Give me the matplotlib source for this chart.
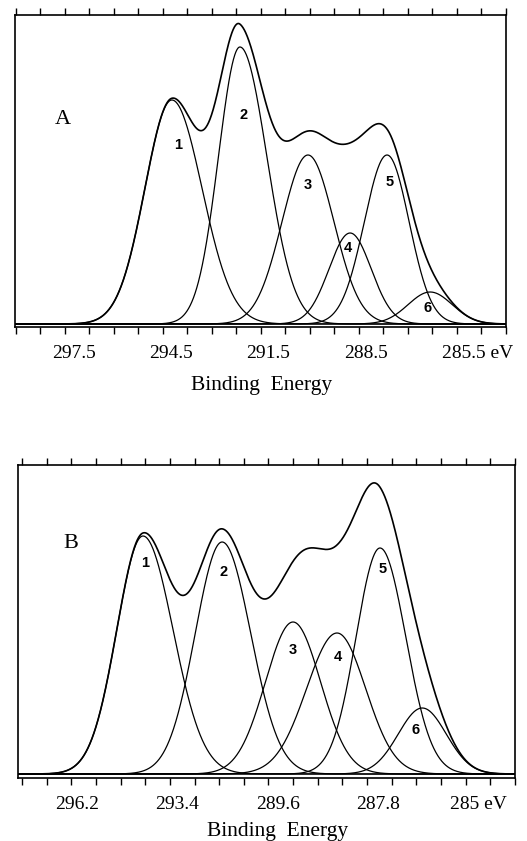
import numpy as np
import matplotlib
matplotlib.use("Agg")
import matplotlib.pyplot as plt
from matplotlib.transforms import ScaledTranslation

# ---------------- data ----------------
# Panel A: component peaks (binding energy eV, height a.u., left/right widths eV)
a_center = [294.48, 292.38, 290.28, 288.98, 287.84, 286.51]
a_height = [224, 277, 169, 91, 169, 32]
a_sig_l = [0.83, 0.66, 0.80, 0.65, 0.70, 0.68]
a_sig_r = [0.93, 0.83, 0.80, 0.65, 0.68, 0.68]
a_base = 3

# Panel B
b_center = [294.36, 292.15, 290.17, 288.94, 287.74, 286.56]
b_height = [238, 232, 152, 141, 226, 66]
b_sig_l = [0.73, 0.75, 0.77, 0.85, 0.67, 0.67]
b_sig_r = [0.84, 0.80, 0.77, 0.80, 0.72, 0.67]
b_base = 4

peak_names = ["1", "2", "3", "4", "5", "6"]

a_tick_vals = [297.5, 294.5, 291.5, 288.5, 285.5]
a_tick_labels = ["297.5", "294.5", "291.5", "288.5", "285.5 eV"]
b_tick_vals = [296.2, 293.4, 290.6, 287.8, 285.0]
b_tick_labels = ["296.2", "293.4", "289.6", "287.8", "285 eV"]

# ---------------- layout ----------------
W, H = 527, 841
fig = plt.figure(figsize=(W / 100, H / 100), dpi=100)


def px_axes(l, r, t, b):
    return fig.add_axes([l / W, 1 - b / H, (r - l) / W, (b - t) / H])


serif = "Liberation Serif"


def comp(E, c, h, sl, sr):
    s = np.where(E >= c, sl, sr)
    return h * np.exp(-0.5 * ((E - c) / s) ** 2)


def panel(ax, xlim, ylim, centers, heights, sl, sr, base, minor_start, minor_step,
          tick_vals, tick_labels, lab_pos, letter, letter_pos, last_shift):
    E = np.linspace(xlim[0], xlim[1], 1500)
    total = np.zeros_like(E)
    for c, h, l, r in zip(centers, heights, sl, sr):
        y = comp(E, c, h, l, r)
        total += y
        ax.plot(E, base + y, color="black", lw=0.9)
    ax.plot(E, base + total, color="black", lw=1.2)
    ax.set_xlim(*xlim)
    ax.set_ylim(*ylim)
    ax.set_yticks([])
    minor = [minor_start - k * minor_step for k in range(21)]
    ax.set_xticks(minor, minor=True)
    ax.set_xticks(tick_vals)
    ax.set_xticklabels(tick_labels, fontfamily=serif, fontsize=14)
    ax.tick_params(axis="x", which="major", length=0, pad=13)
    ax.tick_params(axis="x", which="minor", length=5, width=1.0, direction="out",
                   top=True, bottom=True)
    for sp in ax.spines.values():
        sp.set_linewidth(1.2)
    lab = ax.get_xticklabels()[-1]
    lab.set_transform(lab.get_transform() + ScaledTranslation(last_shift / 100, 0, fig.dpi_scale_trans))
    for name, (x, y) in zip(peak_names, lab_pos):
        ax.text(x, y, name, ha="center", va="center", fontsize=10.5,
                fontfamily="Liberation Sans", fontweight="bold")
    ax.text(letter_pos[0], letter_pos[1], letter, ha="center", va="center",
            fontsize=16, fontfamily=serif, transform=ax.transAxes)


axA = px_axes(15, 506, 15, 327)
labA = [(294.29, 182), (292.28, 212), (290.28, 142), (289.04, 79), (287.75, 145), (286.60, 19)]
panel(axA, (299.32, 284.17), (0, 312), a_center, a_height, a_sig_l, a_sig_r, a_base,
      299.29, 0.756, a_tick_vals, a_tick_labels, labA, "A",
      ((63 - 15) / 491, 1 - (119 - 15) / 312), 15)

axB = px_axes(18, 515, 465, 778)
labB = [(294.30, 215), (292.12, 206), (290.17, 128), (288.91, 121), (287.68, 209), (286.76, 48)]
panel(axB, (297.85, 283.97), (0, 313), b_center, b_height, b_sig_l, b_sig_r, b_base,
      297.74, 0.6885, b_tick_vals, b_tick_labels, labB, "B",
      ((71 - 18) / 497, 1 - (543 - 465) / 313), 0)

fig.text(262 / W, 1 - 390 / H, "Binding  Energy", ha="center", va="baseline",
         fontsize=15.5, fontfamily=serif)
fig.text(278 / W, 1 - 836 / H, "Binding  Energy", ha="center", va="baseline",
         fontsize=15.5, fontfamily=serif)

fig.savefig("out.png", dpi=100)
